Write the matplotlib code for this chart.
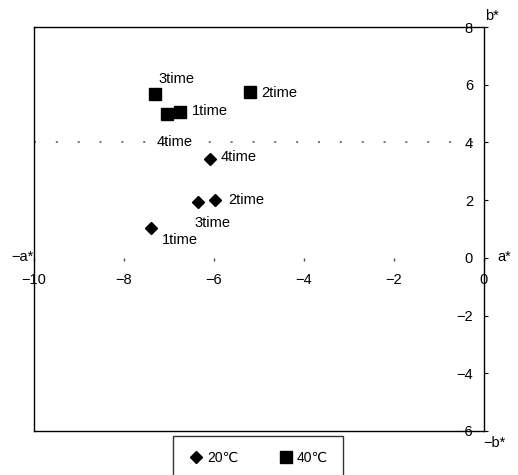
import matplotlib
matplotlib.use("Agg")
import matplotlib.pyplot as plt
from matplotlib.lines import Line2D

plt.rcParams["font.family"] = ["Liberation Sans", "DejaVu Sans"]

# data: a* / b* colour coordinates per storage run
run_labels = ["1time", "2time", "3time", "4time"]
a_20 = [-7.40, -5.98, -6.36, -6.09]
b_20 = [1.04, 2.01, 1.94, 3.43]
a_40 = [-6.76, -5.20, -7.31, -7.05]
b_40 = [5.05, 5.75, 5.68, 5.00]
series_names = ["20\u2103", "40\u2103"]
x_ticks = [-10, -8, -6, -4, -2, 0]
y_ticks = [-6, -4, -2, 0, 2, 4, 6, 8]

# label offsets in pixels, relative to each marker
off_20 = [(11, -12), (13, 0), (-3, -21), (11, 2)]
off_40 = [(12, 1), (11, -1), (3, 15), (-10, -28)]

fig = plt.figure(figsize=(5.18, 4.75), dpi=100)
ax = fig.add_axes([34 / 518, 1 - 431 / 475, 450 / 518, 404 / 475])
ax.set_xlim(-10, 0)
ax.set_ylim(-6, 8)
ax.set_xticks([])
ax.set_yticks([])
for s in ax.spines.values():
    s.set_linewidth(1.0)
    s.set_color("black")

# dotted reference line at b* = 4
ax.axhline(4, color="0.3", lw=1.1, linestyle=(0, (1.3, 13)))

ax.plot(a_20, b_20, "D", color="black", ms=6.3, linestyle="none")
ax.plot(a_40, b_40, "s", color="black", ms=9.2, linestyle="none")

for a, b, lab, off in zip(a_20, b_20, run_labels, off_20):
    ax.annotate(lab, (a, b), xytext=off, textcoords="offset pixels",
                ha="left", va="center", fontsize=10.5)
for a, b, lab, off in zip(a_40, b_40, run_labels, off_40):
    ax.annotate(lab, (a, b), xytext=off, textcoords="offset pixels",
                ha="left", va="center", fontsize=10.5)

# x axis through b* = 0, labels below, no line
ymin, ymax = ax.get_ylim()
secx = ax.secondary_xaxis((0 - ymin) / (ymax - ymin))
secx.set_xticks(x_ticks)
secx.set_xticklabels([f"\u2212{abs(v)}" if v < 0 else str(v) for v in x_ticks])
secx.spines["bottom"].set_visible(False)
secx.tick_params(axis="x", length=2, width=1, color="0.3", labelsize=10.5, pad=9)

# y axis on the right edge, labels inside
secy = ax.secondary_yaxis(1.0)
secy.set_alignment("left")
secy.set_yticks(y_ticks)
secy.set_yticklabels([f"\u2212{abs(v)}" if v < 0 else str(v) for v in y_ticks])
secy.spines["left"].set_visible(False)
secy.tick_params(axis="y", direction="in", length=3, width=0.8, labelsize=10.5, pad=8)

# axis end labels
ax.text(0.02, 8.38, "b*", ha="left", va="center", fontsize=10.5, clip_on=False)
ax.text(-0.02, -6.4, "\u2212b*", ha="left", va="center", fontsize=10.5, clip_on=False)
ax.text(0.3, 0.02, "a*", ha="left", va="center", fontsize=10.5, clip_on=False)
ax.text(-10.02, 0.02, "\u2212a*", ha="right", va="center", fontsize=10.5, clip_on=False)

handles = [
    Line2D([], [], marker="D", color="black", ms=6.3, linestyle="none"),
    Line2D([], [], marker="s", color="black", ms=9.2, linestyle="none"),
]
leg = fig.legend(handles, series_names, loc="upper center",
                 bbox_to_anchor=(258 / 518, 1 - 436 / 475), ncol=2,
                 fancybox=False, frameon=True, fontsize=10,
                 handletextpad=0.2, columnspacing=2.8, borderpad=1.1,
                 borderaxespad=0, handlelength=1.2)
leg.get_frame().set_edgecolor("black")
leg.get_frame().set_linewidth(1.0)

fig.savefig("out.png", dpi=100)
